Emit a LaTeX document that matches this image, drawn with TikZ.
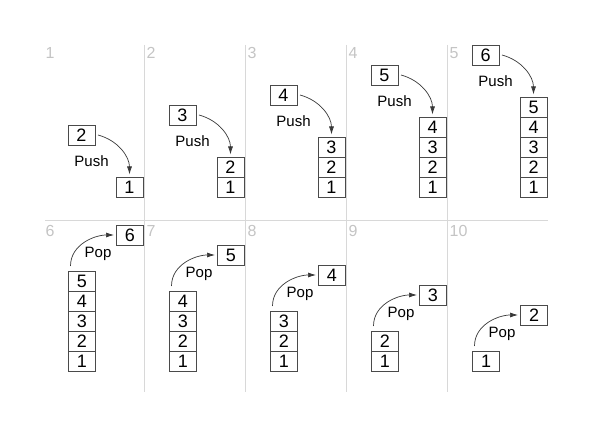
\documentclass[tikz,border=0pt]{standalone}
\usepackage{fontspec}
\setmainfont{Liberation Sans}
\usetikzlibrary{arrows.meta,positioning}

\definecolor{boxgray}{HTML}{4A4A4A}
\definecolor{rulegray}{HTML}{D8D8D8}
\definecolor{numgray}{HTML}{C4C4C4}
\definecolor{arrowgray}{HTML}{383838}

\begin{document}
\begin{tikzpicture}[x=1pt,y=1pt,>={Latex[length=8pt,width=5pt]},
    cell/.style={draw=boxgray,line width=0.8pt,minimum width=27pt,minimum height=20pt,inner sep=0pt,outer sep=0pt,font=\fontsize{18}{18}\selectfont},
    op/.style={inner sep=0pt,font=\fontsize{15}{15}\selectfont},
    panel num/.style={anchor=north west,inner sep=0pt,text=numgray,font=\fontsize{16}{16}\selectfont},
    move/.style={->,draw=arrowgray,line width=0.7pt,shorten >=2.5pt}]
    \useasboundingbox (0,0) rectangle (613,427);

    % panel rules
    \draw[rulegray,line width=0.8pt] (45,207) -- (548,207);
    \draw[rulegray,line width=0.8pt] (144.5,382) -- (144.5,35);
    \draw[rulegray,line width=0.8pt] (245.5,382) -- (245.5,35);
    \draw[rulegray,line width=0.8pt] (346.5,382) -- (346.5,35);
    \draw[rulegray,line width=0.8pt] (447.5,382) -- (447.5,35);

    \node[panel num] (s1no) at (45.5,380) {1};
    \node[panel num] (s2no) at (146.5,380) {2};
    \node[panel num] (s3no) at (247.5,380) {3};
    \node[panel num] (s4no) at (348.5,380) {4};
    \node[panel num] (s5no) at (449.5,380) {5};
    \node[panel num] (s6no) at (45.5,202) {6};
    \node[panel num] (s7no) at (146.5,202) {7};
    \node[panel num] (s8no) at (247.5,202) {8};
    \node[panel num] (s9no) at (348.5,202) {9};
    \node[panel num] (s10no) at (449.5,202) {10};

    % push 2
    \node[cell] (s1c1) at (129.5,240) {1};
    \node[cell] (s1in) [above left=32pt and 21pt of s1c1] {2};
    \node[op] (s1op) at ([shift={(10,-26)}]s1in) {Push};
    \draw[move] ([xshift=3pt]s1in.east) to[out=-15,in=90] (s1c1.north);

    % push 3
    \node[cell] (s2c1) at (230.5,240) {1};
    \node[cell] (s2c2) [above=0pt of s2c1] {2};
    \node[cell] (s2in) [above left=32pt and 21pt of s2c2] {3};
    \node[op] (s2op) at ([shift={(10,-26)}]s2in) {Push};
    \draw[move] ([xshift=3pt]s2in.east) to[out=-15,in=90] (s2c2.north);

    % push 4
    \node[cell] (s3c1) at (331.5,240) {1};
    \node[cell] (s3c2) [above=0pt of s3c1] {2};
    \node[cell] (s3c3) [above=0pt of s3c2] {3};
    \node[cell] (s3in) [above left=32pt and 21pt of s3c3] {4};
    \node[op] (s3op) at ([shift={(10,-26)}]s3in) {Push};
    \draw[move] ([xshift=3pt]s3in.east) to[out=-15,in=90] (s3c3.north);

    % push 5
    \node[cell] (s4c1) at (432.5,240) {1};
    \node[cell] (s4c2) [above=0pt of s4c1] {2};
    \node[cell] (s4c3) [above=0pt of s4c2] {3};
    \node[cell] (s4c4) [above=0pt of s4c3] {4};
    \node[cell] (s4in) [above left=32pt and 21pt of s4c4] {5};
    \node[op] (s4op) at ([shift={(10,-26)}]s4in) {Push};
    \draw[move] ([xshift=3pt]s4in.east) to[out=-15,in=90] (s4c4.north);

    % push 6
    \node[cell] (s5c1) at (533.5,240) {1};
    \node[cell] (s5c2) [above=0pt of s5c1] {2};
    \node[cell] (s5c3) [above=0pt of s5c2] {3};
    \node[cell] (s5c4) [above=0pt of s5c3] {4};
    \node[cell] (s5c5) [above=0pt of s5c4] {5};
    \node[cell] (s5in) [above left=32pt and 21pt of s5c5] {6};
    \node[op] (s5op) at ([shift={(10,-26)}]s5in) {Push};
    \draw[move] ([xshift=3pt]s5in.east) to[out=-15,in=90] (s5c5.north);

    % pop 6
    \node[cell] (s6c1) at (82,66) {1};
    \node[cell] (s6c2) [above=0pt of s6c1] {2};
    \node[cell] (s6c3) [above=0pt of s6c2] {3};
    \node[cell] (s6c4) [above=0pt of s6c3] {4};
    \node[cell] (s6c5) [above=0pt of s6c4] {5};
    \node[cell] (s6out) [above right=26pt and 21pt of s6c5] {6};
    \node[op] (s6op) at ([shift={(-32,-19)}]s6out) {Pop};
    \draw[move] ([shift={(2,5)}]s6c5.north west) to[out=90,in=180] (s6out.west);

    % pop 5
    \node[cell] (s7c1) at (183,66) {1};
    \node[cell] (s7c2) [above=0pt of s7c1] {2};
    \node[cell] (s7c3) [above=0pt of s7c2] {3};
    \node[cell] (s7c4) [above=0pt of s7c3] {4};
    \node[cell] (s7out) [above right=26pt and 21pt of s7c4] {5};
    \node[op] (s7op) at ([shift={(-32,-19)}]s7out) {Pop};
    \draw[move] ([shift={(2,5)}]s7c4.north west) to[out=90,in=180] (s7out.west);

    % pop 4
    \node[cell] (s8c1) at (284,66) {1};
    \node[cell] (s8c2) [above=0pt of s8c1] {2};
    \node[cell] (s8c3) [above=0pt of s8c2] {3};
    \node[cell] (s8out) [above right=26pt and 21pt of s8c3] {4};
    \node[op] (s8op) at ([shift={(-32,-19)}]s8out) {Pop};
    \draw[move] ([shift={(2,5)}]s8c3.north west) to[out=90,in=180] (s8out.west);

    % pop 3
    \node[cell] (s9c1) at (385,66) {1};
    \node[cell] (s9c2) [above=0pt of s9c1] {2};
    \node[cell] (s9out) [above right=26pt and 21pt of s9c2] {3};
    \node[op] (s9op) at ([shift={(-32,-19)}]s9out) {Pop};
    \draw[move] ([shift={(2,5)}]s9c2.north west) to[out=90,in=180] (s9out.west);

    % pop 2
    \node[cell] (s10c1) at (486,66) {1};
    \node[cell] (s10out) [above right=26pt and 21pt of s10c1] {2};
    \node[op] (s10op) at ([shift={(-32,-19)}]s10out) {Pop};
    \draw[move] ([shift={(2,5)}]s10c1.north west) to[out=90,in=180] (s10out.west);
\end{tikzpicture}
\end{document}
